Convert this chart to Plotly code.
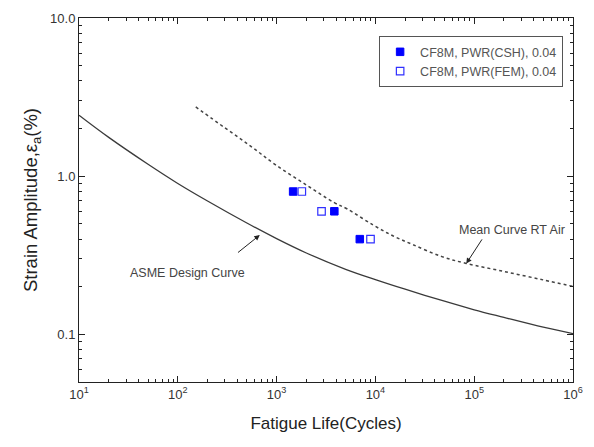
import plotly.graph_objects as go

# ASME design curve (cycles, strain amplitude %)
asme_n = [10, 20, 50, 100, 200, 500, 1000, 2000, 5000, 10000, 20000, 50000, 100000, 200000, 500000, 1000000]
asme_e = [2.43, 1.76, 1.19, 0.90, 0.697, 0.506, 0.403, 0.327, 0.258, 0.222, 0.193, 0.162, 0.143, 0.128, 0.111, 0.101]

# Mean curve RT air
mean_n = [152, 300, 553, 977, 2000, 3840, 5200, 9550, 15000, 23800, 47100, 83000, 200000, 500000, 1000000]
mean_e = [2.74, 2.02, 1.54, 1.18, 0.88, 0.68, 0.62, 0.49, 0.42, 0.37, 0.31, 0.281, 0.25, 0.221, 0.201]

# Test data
csh_n = [1470, 3840, 6950]
csh_e = [0.8, 0.6, 0.4]
fem_n = [1800, 2850, 8920]
fem_e = [0.8, 0.6, 0.4]

x_tickvals = [1e1, 1e2, 1e3, 1e4, 1e5, 1e6]
x_ticktext = ["10<sup>1</sup>", "10<sup>2</sup>", "10<sup>3</sup>", "10<sup>4</sup>", "10<sup>5</sup>", "10<sup>6</sup>"]
y_tickvals = [0.1, 1, 10]
y_ticktext = ["0.1", "1.0", "10.0"]

x_minor = [m * 10 ** d for d in range(1, 6) for m in range(2, 10)]
y_minor = [m * 10 ** d for d in range(-2, 1) for m in range(2, 10)]

fig = go.Figure()
fig.add_trace(go.Scatter(x=asme_n, y=asme_e, mode="lines", line=dict(color="#3a3a3a", width=1.3, shape="spline"),
                         showlegend=False, hoverinfo="skip"))
fig.add_trace(go.Scatter(x=mean_n, y=mean_e, mode="lines", line=dict(color="#444444", width=1.5, dash="dot", shape="spline"),
                         showlegend=False, hoverinfo="skip"))
fig.add_trace(go.Scatter(x=csh_n, y=csh_e, mode="markers", name="CF8M, PWR(CSH), 0.04",
                         marker=dict(symbol="square", size=7.5, color="#0000ff", line=dict(color="#0000ff", width=1))))
fig.add_trace(go.Scatter(x=fem_n, y=fem_e, mode="markers", name="CF8M, PWR(FEM), 0.04",
                         marker=dict(symbol="square", size=7.5, color="white", line=dict(color="#3030ff", width=1.2))))

font_fam = "Liberation Sans, Arial, sans-serif"

pw, ph = 594 - 79 - 11, 447 - 13 - 65

annotations = [
    dict(x=2.83, y=-0.372, xref="x", yref="y", text="", showarrow=True,
         ax=2.594, ay=-0.49, axref="x", ayref="y",
         arrowhead=2, arrowsize=1.1, arrowwidth=1, arrowcolor="#222"),
    dict(x=4.92, y=-0.552, xref="x", yref="y", text="", showarrow=True,
         ax=5.089, ay=-0.39, axref="x", ayref="y",
         arrowhead=2, arrowsize=1.1, arrowwidth=1, arrowcolor="#222"),
    dict(x=(190 - 79) / pw, y=1 - (272 - 13) / ph, xref="paper", yref="paper",
         xanchor="center", yanchor="middle", text="ASME Design Curve", showarrow=False,
         font=dict(size=12.5, color="#444")),
    dict(x=(521 - 79) / pw, y=1 - (228 - 13) / ph, xref="paper", yref="paper",
         xanchor="center", yanchor="middle", text="Mean Curve RT Air", showarrow=False,
         font=dict(size=12.5, color="#444")),
]

fig.update_layout(
    width=594, height=447,
    margin=dict(l=79, r=11, t=13, b=65),
    paper_bgcolor="white", plot_bgcolor="white",
    font=dict(family=font_fam, color="#333", size=12),
    showlegend=True,
    legend=dict(x=0.98, y=0.95, xanchor="right", yanchor="top",
                bordercolor="#555", borderwidth=1, bgcolor="white",
                font=dict(size=12.5, color="#555"), itemwidth=30, tracegroupgap=0),
    xaxis=dict(type="log", range=[1, 6], tickvals=x_tickvals, ticktext=x_ticktext,
               showline=True, linecolor="#222", linewidth=1, mirror="ticks",
               ticks="inside", ticklen=6, tickcolor="#222", showgrid=False, zeroline=False,
               minor=dict(tickmode="array", tickvals=x_minor, ticks="inside", ticklen=3,
                          tickcolor="#222", showgrid=False),
               title=dict(text="Fatigue Life(Cycles)", font=dict(size=17, color="#222"), standoff=16),
               tickfont=dict(size=13, color="#333")),
    yaxis=dict(type="log", range=[-1.301, 1], tickvals=y_tickvals, ticktext=y_ticktext,
               showline=True, linecolor="#222", linewidth=1, mirror="ticks",
               ticks="inside", ticklen=6, tickcolor="#222", showgrid=False, zeroline=False,
               minor=dict(tickmode="array", tickvals=y_minor, ticks="inside", ticklen=3,
                          tickcolor="#222", showgrid=False),
               title=dict(text="Strain Amplitude,ε<sub>a</sub>(%)", font=dict(size=18.5, color="#222"), standoff=7),
               tickfont=dict(size=13, color="#333")),
    annotations=annotations,
)

fig.write_html("out.html")
